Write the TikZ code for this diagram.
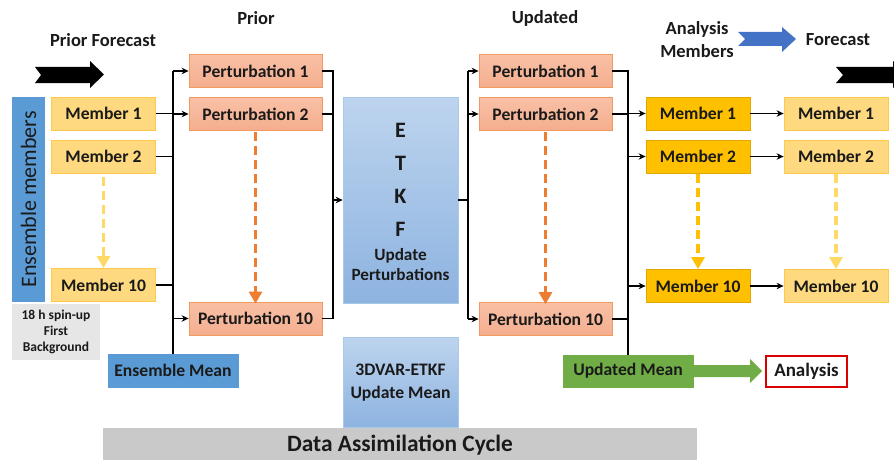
\documentclass[tikz,border=0pt]{standalone}
\usepackage{fontspec}
\setmainfont{Carlito}
\usetikzlibrary{arrows.meta}
\definecolor{txt}{HTML}{1A1A1A}
\definecolor{memL}{HTML}{FFD97F}
\definecolor{memLb}{HTML}{FFC94A}
\definecolor{memD}{HTML}{FFC000}
\definecolor{memDb}{HTML}{E0A800}
\definecolor{pertF}{HTML}{F5AE8E}
\definecolor{pertT}{HTML}{F8C0A6}
\definecolor{pertB}{HTML}{F2995E}
\definecolor{blueA}{HTML}{5B9BD5}
\definecolor{etkfT}{HTML}{BDD4EE}
\definecolor{etkfB}{HTML}{8DB3E0}
\definecolor{greenA}{HTML}{70AD47}
\definecolor{greyBar}{HTML}{C9C9C9}
\definecolor{greyBox}{HTML}{E7E6E6}
\definecolor{arrBlue}{HTML}{4472C4}
\definecolor{dashY}{HTML}{FFD966}
\definecolor{dashO}{HTML}{ED7D31}
\tikzset{
  lbl/.style={font=\fontsize{18.5}{21}\selectfont\bfseries, text=txt, inner sep=0},
  bx/.style={font=\fontsize{17.6}{20}\selectfont\bfseries, text=txt, inner sep=0, line width=0.8pt},
  memlight/.style={bx, fill=memL, draw=memLb, minimum width=104, minimum height=33},
  memdark/.style={bx, fill=memD, draw=memDb, minimum width=104, minimum height=33},
  pertbox/.style={bx, top color=pertT, bottom color=pertF, draw=pertB, minimum width=133, minimum height=33},
  conn/.style={line width=1.4pt, black},
  carr/.style={conn, -{Stealth[length=7pt,width=6.5pt]}},
  dasharr/.style={line width=3.6pt, dash pattern=on 9pt off 5pt, -{Triangle[length=12pt,width=13pt]}},
}
\begin{document}
\begin{tikzpicture}[x=1pt,y=-1pt]
\useasboundingbox (0,0) rectangle (894,460);
\clip (0,0) rectangle (894,460);

% headings
\node[lbl] (tprior) at (256,18) {Prior};
\node[lbl] (tupd) at (545,18) {Updated};
\node[lbl] (tpf) at (103,40) {Prior Forecast};
\node[lbl, align=center, font=\fontsize{18.5}{23}\selectfont\bfseries] (tam) at (697,40) {Analysis\\Members};
\node[lbl] (tfc) at (838,40) {Forecast};

% chevron arrows
\fill[black] (35,67) -- (90,67) -- (90,61) -- (104,74.5) -- (90,88) -- (90,83) -- (35,83) -- (41,75) -- cycle;
\fill[black] (836,67) -- (893,67) -- (893,61) -- (907,74.5) -- (893,88) -- (893,83) -- (836,83) -- (843,75) -- cycle;
\fill[arrBlue] (738,32) -- (782,32) -- (782,27) -- (796,39) -- (782,52) -- (782,46) -- (738,46) -- (745,39) -- cycle;

% ensemble members bar
\node[fill=blueA, minimum width=33, minimum height=205, inner sep=0] (ens) at (28.5,199.5) {};
\node[rotate=90, font=\fontsize{22}{24}\selectfont, text=txt, inner sep=0] (enst) at (ens.center) {Ensemble members};
\node[fill=greyBox, minimum width=88, minimum height=56, inner sep=0, align=center,
  font=\fontsize{13.5}{16}\selectfont\bfseries, text=txt] (spin) at (56,332) {18 h spin-up\\First\\Background};

% prior members
\node[memlight] (m1) at (103.5,113.5) {Member 1};
\node[memlight] (m2) at (103.5,156.5) {Member 2};
\node[memlight] (m10) at (103.5,285) {Member 10};

% prior perturbations
\node[pertbox] (p1) at (255.5,71) {Perturbation 1};
\node[pertbox] (p2) at (255.5,114) {Perturbation 2};
\node[pertbox] (p10) at (255.5,318.5) {Perturbation 10};

\node[bx, fill=blueA, draw=blueA, minimum width=130, minimum height=33] (emean) at (173,370.5) {Ensemble Mean};

% grey bar
\node[fill=greyBar, minimum width=594, minimum height=35, inner sep=0,
  font=\fontsize{23.4}{26}\selectfont\bfseries, text=txt] (dac) at (400,445) {Data Assimilation Cycle};

% ETKF
\node[top color=etkfT, bottom color=etkfB, draw=etkfT!80!blueA, line width=0.6pt, minimum width=115, minimum height=206, inner sep=0] (etkf) at (400.5,200) {};
\node[lbl, font=\fontsize{22}{33}\selectfont\bfseries, align=center] (etkft) at (400.5,180) {E\\T\\K\\F};
\node[lbl, font=\fontsize{17.2}{20.5}\selectfont\bfseries, align=center] (etkfs) at (400.5,264.5) {Update\\Perturbations};
\node[top color=etkfT, bottom color=etkfB, draw=etkfT!80!blueA, line width=0.6pt, minimum width=115, minimum height=90, inner sep=0] (tdv) at (400.5,382.5) {};
\node[lbl, font=\fontsize{17.6}{23}\selectfont\bfseries, align=center] (tdvt) at (400.5,382.5) {3DVAR-ETKF\\Update Mean};

% updated perturbations
\node[pertbox] (u1) at (545.5,71) {Perturbation 1};
\node[pertbox] (u2) at (545.5,114) {Perturbation 2};
\node[pertbox] (u10) at (545.5,319) {Perturbation 10};

\node[bx, fill=greenA, draw=greenA, minimum width=130, minimum height=32] (umean) at (628,371) {Updated Mean};
\fill[greenA] (693,365) -- (750,365) -- (750,359) -- (762,371) -- (750,383) -- (750,377) -- (693,377) -- cycle;
\node[bx, draw=red!85!black, line width=1.6pt, fill=white, minimum width=81, minimum height=31, font=\fontsize{19}{21}\selectfont\bfseries] (ana) at (806.5,371.5) {Analysis};

% analysis members
\node[memdark] (a1) at (698,113.5) {Member 1};
\node[memdark] (a2) at (698,156.5) {Member 2};
\node[memdark] (a10) at (698,286) {Member 10};
% forecast members
\node[memlight] (f1) at (836,113.5) {Member 1};
\node[memlight] (f2) at (836,156.5) {Member 2};
\node[memlight] (f10) at (836,286) {Member 10};

% bus coordinates
\coordinate (busA) at (173,0);
\coordinate (busB) at (333,0);
\coordinate (busC) at (468,0);
\coordinate (busD) at (628,0);

% prior member -> bus
\draw[conn] (m1.east) -- (m1.east -| busA);
\draw[conn] (m2.east) -- (m2.east -| busA);
\draw[conn] (m10.east) -- (m10.east -| busA);
\draw[conn] (emean.north) -- (p1.west -| busA);
\draw[carr] (p1.west -| busA) -- (p1.west);
\draw[carr] (p2.west -| busA) -- (p2.west);
\draw[carr] (p10.west -| busA) -- (p10.west);

% perturbations -> ETKF
\draw[conn] (p1.east) -- (p1.east -| busB) -- (p10.east -| busB) -- (p10.east);
\draw[conn] (p2.east) -- (p2.east -| busB);
\draw[carr] (etkf.west -| busB) -- (etkf.west);

% ETKF -> updated
\draw[conn] (etkf.east) -- (etkf.east -| busC);
\draw[conn] (u1.west -| busC) -- (u10.west -| busC);
\draw[carr] (u1.west -| busC) -- (u1.west);
\draw[carr] (u2.west -| busC) -- (u2.west);
\draw[carr] (u10.west -| busC) -- (u10.west);

% updated -> analysis members
\draw[conn] (u1.east) -- (u1.east -| busD) -- (umean.north);
\draw[conn] (u2.east) -- (u2.east -| busD);
\draw[conn] (u10.east) -- (u10.east -| busD);
\draw[carr] (a1.west -| busD) -- (a1.west);
\draw[carr] (a2.west -| busD) -- (a2.west);
\draw[carr] (a10.west -| busD) -- (a10.west);
\draw[carr] (a1) -- (f1);
\draw[carr] (a2) -- (f2);
\draw[carr] (a10) -- (f10);

% dashed arrows
\draw[dasharr, dashY] ([yshift=-4pt]m2.south) -- (m10.north);
\draw[dasharr, dashO] ([yshift=-1pt]p2.south) -- ([yshift=-2pt]p10.north);
\draw[dasharr, dashO] ([yshift=-1pt]u2.south) -- ([yshift=-2pt]u10.north);
\draw[dasharr, memD] ([yshift=-1pt]a2.south) -- (a10.north);
\draw[dasharr, dashY] ([yshift=-1pt]f2.south) -- (f10.north);
\end{tikzpicture}
\end{document}
